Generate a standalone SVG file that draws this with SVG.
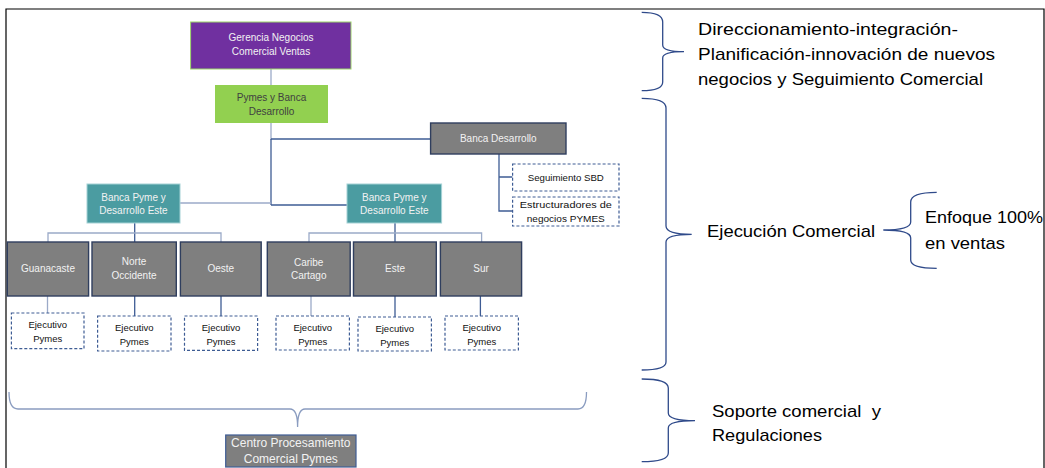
<svg xmlns="http://www.w3.org/2000/svg" width="1045" height="468" viewBox="0 0 1045 468">
<style>
text{font-family:"Liberation Sans","DejaVu Sans",sans-serif;text-anchor:middle}
.bx{font-size:10px;fill:#f2f2f2}
.dk{font-size:9.5px;fill:#111}
.gr{fill:#7f7f7f;stroke:#2f3e5e;stroke-width:1.4}
.ds{fill:#fff;stroke:#3e5c94;stroke-width:1.2;stroke-dasharray:3,2}
.ln{fill:none;stroke:#3e5c94;stroke-width:1.3}
.lt{fill:none;stroke:#9baac8;stroke-width:1.3}
.br{fill:none;stroke:#2f4a8a;stroke-width:1.3}
.rt{font-size:17px;fill:#000;text-anchor:start}
</style>
<rect x="0" y="0" width="1045" height="468" fill="#fff"/>
<path d="M6,468 V9 H1044 V468" fill="none" stroke="#000" stroke-width="1.2"/>
<g id="connectors">
<line class="lt" x1="271" y1="69" x2="271" y2="85"/>
<line class="lt" x1="271" y1="123" x2="271" y2="140"/>
<line class="ln" x1="271" y1="139" x2="271" y2="205"/>
<line class="ln" x1="271" y1="139" x2="430" y2="139"/>
<line class="lt" x1="180" y1="203" x2="271" y2="203"/>
<line class="ln" x1="271" y1="205" x2="347" y2="205"/>
<path class="ln" d="M499,154 V211 H512.6 M499,177 H512.6"/>
<line class="ln" x1="134.7" y1="223" x2="134.7" y2="242"/>
<path class="lt" d="M48,242 V233 H221 V242"/>
<line class="ln" x1="395" y1="223" x2="395" y2="242"/>
<path class="lt" d="M309,242 V233 H481.6 V242"/>
<line class="lt" x1="47.5" y1="296" x2="47.5" y2="313"/>
<line class="ln" x1="134.7" y1="296" x2="134.7" y2="316"/>
<line class="ln" x1="221" y1="296" x2="221" y2="316"/>
<line class="lt" x1="311" y1="296" x2="311" y2="316"/>
<line class="ln" x1="395" y1="296" x2="395" y2="317"/>
<line class="ln" x1="480.4" y1="296" x2="480.4" y2="316"/>
<path fill="none" stroke="#8a9cc0" stroke-width="1.3" d="M9,392 Q9,409 18,409 L290,409 Q297.6,409 297.6,427 Q297.6,409 305,409 L578,409 Q586.5,409 586.5,392"/>
</g>
<g id="n-gerencia">
<rect x="190.6" y="22" width="160.4" height="47" fill="#7030a0" stroke="#9bd36a" stroke-width="1"/>
<text class="bx" x="271" y="41">Gerencia Negocios</text>
<text class="bx" x="271" y="55">Comercial Ventas</text>
</g>
<g id="n-pymes">
<rect x="215" y="85" width="113" height="38" fill="#92d050"/>
<text x="271.5" y="101" font-size="10" fill="#404040">Pymes y Banca</text>
<text x="271.5" y="114.5" font-size="10" fill="#404040">Desarrollo</text>
</g>
<g id="n-bancadesarrollo">
<rect class="gr" x="430.6" y="123" width="135.4" height="31"/>
<text class="bx" x="498.3" y="142">Banca Desarrollo</text>
</g>
<g id="n-seguimiento">
<rect class="ds" x="512.6" y="164" width="106.4" height="27"/>
<text class="dk" x="565.8" y="180.5" font-size="9" textLength="76" lengthAdjust="spacingAndGlyphs">Seguimiento SBD</text>
</g>
<g id="n-estructuradores">
<rect class="ds" x="512.6" y="197" width="106.4" height="29"/>
<text class="dk" x="565.8" y="208" font-size="10.5" textLength="92" lengthAdjust="spacingAndGlyphs">Estructuradores de</text>
<text class="dk" x="565.8" y="222" font-size="10.5" textLength="78" lengthAdjust="spacingAndGlyphs">negocios PYMES</text>
</g>
<g id="n-teal-left">
<rect x="87" y="184" width="93" height="39" fill="#4b9ca1" stroke="#a5d2d5" stroke-width="1"/>
<text class="bx" x="133.5" y="200.5">Banca Pyme y</text>
<text class="bx" x="133.5" y="214">Desarrollo Este</text>
</g>
<g id="n-teal-right">
<rect x="347" y="184" width="94.6" height="39" fill="#4b9ca1" stroke="#a5d2d5" stroke-width="1"/>
<text class="bx" x="394.3" y="200.5">Banca Pyme y</text>
<text class="bx" x="394.3" y="214">Desarrollo Este</text>
</g>
<g id="n-guanacaste">
<rect class="gr" x="7.3" y="242" width="81.3" height="54"/>
<text class="bx" x="48" y="271.5">Guanacaste</text>
</g>
<g id="n-norte">
<rect class="gr" x="92" y="242" width="84.3" height="54"/>
<text class="bx" x="134" y="265">Norte</text>
<text class="bx" x="134" y="278.5">Occidente</text>
</g>
<g id="n-oeste">
<rect class="gr" x="180.4" y="242" width="80.8" height="54"/>
<text class="bx" x="220.8" y="271.5">Oeste</text>
</g>
<g id="n-caribe">
<rect class="gr" x="267.3" y="242" width="82.9" height="54"/>
<text class="bx" x="308.7" y="265.5">Caribe</text>
<text class="bx" x="308.7" y="279">Cartago</text>
</g>
<g id="n-este">
<rect class="gr" x="353.5" y="242" width="82.8" height="54"/>
<text class="bx" x="395" y="272">Este</text>
</g>
<g id="n-sur">
<rect class="gr" x="440.4" y="242" width="81.2" height="54"/>
<text class="bx" x="481" y="272">Sur</text>
</g>
<g id="n-ejec1">
<rect class="ds" x="11.4" y="313" width="72.6" height="35.7"/>
<text class="dk" x="47.7" y="328">Ejecutivo</text>
<text class="dk" x="47.7" y="341.5">Pymes</text>
</g>
<g id="n-ejec2">
<rect class="ds" x="97.6" y="316" width="73.4" height="35"/>
<text class="dk" x="134.3" y="331">Ejecutivo</text>
<text class="dk" x="134.3" y="344.5">Pymes</text>
</g>
<g id="n-ejec3">
<rect class="ds" x="184.5" y="316" width="73.1" height="34.3"/>
<text class="dk" x="221" y="331">Ejecutivo</text>
<text class="dk" x="221" y="344.5">Pymes</text>
</g>
<g id="n-ejec4">
<rect class="ds" x="276" y="316" width="73.4" height="34"/>
<text class="dk" x="312.7" y="331">Ejecutivo</text>
<text class="dk" x="312.7" y="344.5">Pymes</text>
</g>
<g id="n-ejec5">
<rect class="ds" x="358" y="317" width="73.4" height="34"/>
<text class="dk" x="394.7" y="332">Ejecutivo</text>
<text class="dk" x="394.7" y="345.5">Pymes</text>
</g>
<g id="n-ejec6">
<rect class="ds" x="445" y="316" width="73.4" height="34"/>
<text class="dk" x="481.7" y="331">Ejecutivo</text>
<text class="dk" x="481.7" y="344.5">Pymes</text>
</g>
<g id="n-centro">
<rect x="225.7" y="435" width="130.3" height="32" fill="#7f7f7f" stroke="#3e5c94" stroke-width="1.2"/>
<text x="290.8" y="447" font-size="12" fill="#f2f2f2">Centro Procesamiento</text>
<text x="290.8" y="463" font-size="12" fill="#f2f2f2">Comercial Pymes</text>
</g>
<g id="braces">
<path class="br" d="M641.7,12.3 Q662.7,12.3 662.7,22 L662.7,45 Q662.7,51.7 684,51.7 Q662.7,51.7 662.7,58 L662.7,82 Q662.7,90.7 641.7,90.7"/>
<path class="br" d="M641.7,98.3 Q666,98.3 666,108 L666,226 Q666,234.3 691.7,234.3 Q666,234.3 666,242 L666,362 Q666,370 641.7,370"/>
<path class="br" d="M936.7,192.3 Q910.7,192.3 910.7,202 L910.7,222 Q910.7,230 883.3,230 Q910.7,230 910.7,238 L910.7,260 Q910.7,268.3 936.7,268.3"/>
<path class="br" d="M641.7,379 Q668.3,379 668.3,388 L668.3,413 Q668.3,420.7 695,420.7 Q668.3,420.7 668.3,428 L668.3,453 Q668.3,461.7 641.7,461.7"/>
</g>
<g id="labels">
<text class="rt" x="698" y="35" textLength="260" lengthAdjust="spacingAndGlyphs">Direccionamiento-integración-</text>
<text class="rt" x="698" y="60" textLength="297" lengthAdjust="spacingAndGlyphs">Planificación-innovación de nuevos</text>
<text class="rt" x="698" y="85" textLength="285" lengthAdjust="spacingAndGlyphs">negocios y Seguimiento Comercial</text>
<text class="rt" x="707" y="237" textLength="168" lengthAdjust="spacingAndGlyphs">Ejecución Comercial</text>
<text class="rt" x="925" y="223" textLength="118" lengthAdjust="spacingAndGlyphs">Enfoque 100%</text>
<text class="rt" x="925" y="249" textLength="80" lengthAdjust="spacingAndGlyphs">en ventas</text>
<text class="rt" x="712" y="417" textLength="169" lengthAdjust="spacingAndGlyphs" xml:space="preserve">Soporte comercial  y</text>
<text class="rt" x="712" y="441" textLength="110" lengthAdjust="spacingAndGlyphs">Regulaciones</text>
</g>
</svg>
